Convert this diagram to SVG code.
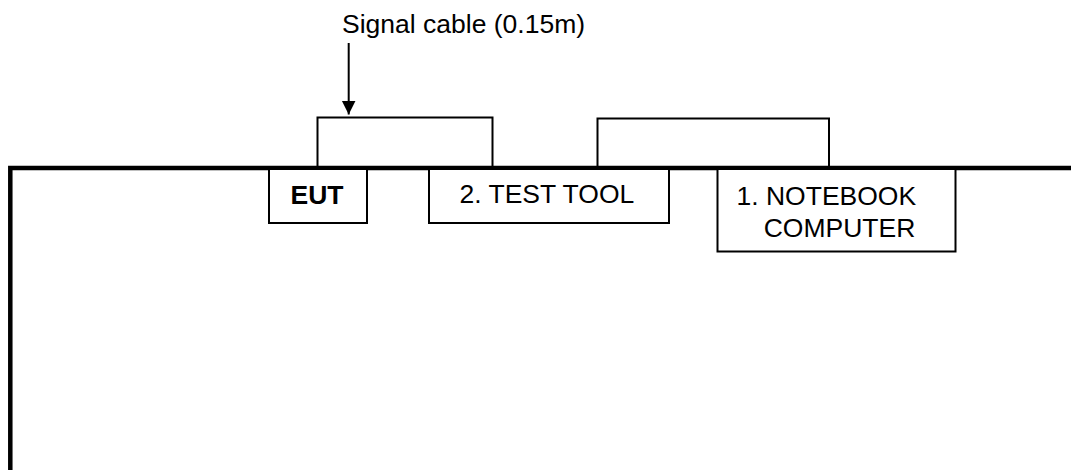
<svg xmlns="http://www.w3.org/2000/svg" width="1071" height="470" viewBox="0 0 1071 470">
  <style>
    .box { fill: #fff; stroke: #000; stroke-width: 2; }
    .cable { fill: none; stroke: #000; stroke-width: 2; }
    .lbl { font-family: "Liberation Sans", Arial, sans-serif; font-size: 26.5px; fill: #000; }
    .bold { font-weight: bold; }
  </style>
  <defs>
    <marker id="arrowhead" markerWidth="14" markerHeight="15" refX="14" refY="7" orient="auto" markerUnits="userSpaceOnUse">
      <path d="M0,0 L14,7 L0,14 Z" fill="#000"/>
    </marker>
  </defs>
  <rect width="1071" height="470" fill="#fff"/>

  <!-- table edge -->
  <path id="table" d="M10.3,470 V168 H1071" fill="none" stroke="#000" stroke-width="4.5"/>

  <!-- cables and callout arrow -->
  <g id="connectors">
    <path class="cable" d="M317.5,167 V117.5 H492.5 V167"/>
    <path class="cable" d="M597.5,167 V118.5 H829 V167"/>
    <line x1="348.7" y1="43" x2="348.7" y2="114.5" stroke="#000" stroke-width="2" marker-end="url(#arrowhead)"/>
  </g>

  <text id="cable-label" class="lbl" x="342" y="33.3">Signal cable (0.15m)</text>

  <g id="eut">
    <rect class="box" x="269" y="169" width="98" height="54"/>
    <text class="lbl bold" x="290.5" y="204">EUT</text>
  </g>

  <g id="test-tool">
    <rect class="box" x="429" y="169" width="240" height="54"/>
    <text class="lbl" x="459.5" y="203.3">2. TEST TOOL</text>
  </g>

  <g id="notebook">
    <rect class="box" x="717.5" y="169" width="238" height="82.5"/>
    <text class="lbl" x="736.5" y="205">1. NOTEBOOK</text>
    <text class="lbl" x="763.7" y="237.3">COMPUTER</text>
  </g>
</svg>
